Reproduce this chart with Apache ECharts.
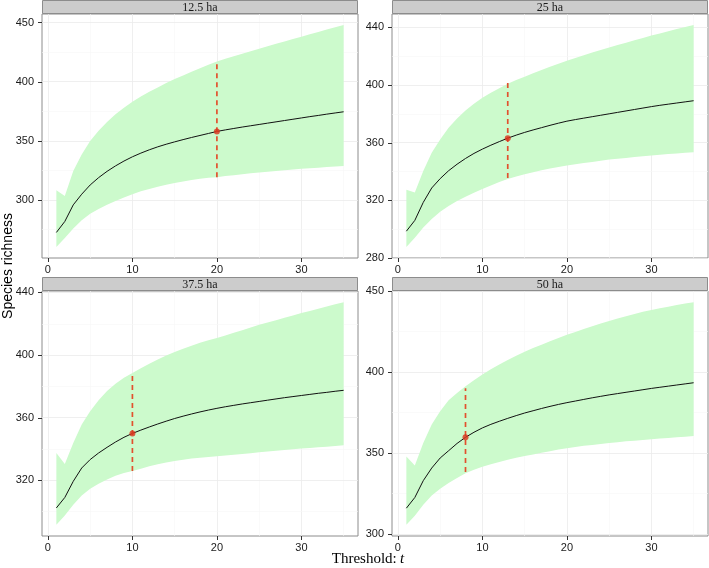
<!DOCTYPE html>
<html><head><meta charset="utf-8">
<script src="https://cdn.jsdelivr.net/npm/echarts@6/dist/echarts.min.js"></script>
<style>html,body{margin:0;padding:0;background:#fff}#c{width:709px;height:568px}</style>
</head><body><div id="c"></div>
<script>
const thresholds = [1,2,3,4,5,6,7,8,9,10,11,12,13,14,15,16,17,18,19,20,21,22,23,24,25,26,27,28,29,30,31,32,33,34,35];
const panelNames = ['12.5 ha','25 ha','37.5 ha','50 ha'];

const mean12 = [272.7,282,296,305,312.8,319,324.3,328.9,333,336.6,339.7,342.5,345,347.2,349.2,351.1,352.9,354.6,356.3,358,359.3,360.5,361.7,362.8,363.9,365,366.1,367.2,368.3,369.4,370.5,371.5,372.6,373.6,374.6];
const lower12 = [260.5,268,276,283,288.5,292.5,296,299.2,302.2,305,307.5,309.5,311.3,313,314.5,315.8,317,318,318.8,319.4,320.3,321.1,321.9,322.7,323.4,324,324.6,325.2,325.8,326.4,326.9,327.4,327.9,328.4,328.8];
const upper12 = [308.3,303.5,324.5,338.5,350,358.5,366,372.5,378,383,387.5,391.5,395.2,398.8,402.2,405.3,408.4,411.4,414.3,417.1,419.3,421.5,423.6,425.7,427.8,429.9,432,434,436,438,440,442,444,445.9,447.8];

const mean25 = [298.5,306,318.5,328.5,335,340.5,345,349,352.5,355.5,358.2,360.7,363.1,365.2,367.1,368.8,370.4,372,373.5,374.9,376,377,378,379,380,381,382,383,384,385,385.9,386.7,387.5,388.3,389.1];
const lower25 = [287.6,294,301,307,312,316,319.5,322.5,325.2,327.8,330.3,332.6,334.8,336.5,338,339.5,340.8,342,343.1,344.2,345,345.8,346.6,347.4,348.2,348.8,349.4,350,350.6,351.1,351.6,352.1,352.5,353,353.4];
const upper25 = [327.2,325.3,340.3,353,362.2,370.3,376.8,382.3,387,391.1,394.6,397.8,400.8,403.4,405.8,408.1,410.4,412.6,414.8,416.9,418.8,420.7,422.5,424.3,426,427.7,429.4,431,432.7,434.3,435.8,437.3,438.8,440.2,441.6];

const mean37 = [302.4,309.1,319.4,327.9,333.3,337.5,341.1,344.5,347.5,350,352.1,354.1,356,357.8,359.5,361,362.4,363.7,364.9,366,367,367.9,368.8,369.6,370.4,371.2,372,372.8,373.5,374.2,374.9,375.6,376.2,376.9,377.5];
const lower37 = [291.6,297.6,304.4,310.4,314.7,317.9,320.6,323,324.7,326,327.5,329,330.3,331.4,332.4,333.2,333.9,334.5,335,335.4,335.9,336.4,336.9,337.4,337.9,338.4,338.9,339.4,339.8,340.3,340.7,341.1,341.5,342,342.4];
const upper37 = [337.5,330.4,343.9,355.7,364.2,371.1,377,381.7,385.5,388.5,391.6,394.5,397.2,399.7,402,404.1,406,407.8,409.4,410.9,412.5,414.2,415.9,417.6,419.3,420.8,422.3,423.8,425.3,426.8,428.2,429.6,431,432.4,433.8];

const mean50 = [315.9,322.5,332.9,340.7,346.9,351.4,355.9,359.7,362.8,365.5,367.7,369.6,371.4,373.1,374.7,376.1,377.5,378.8,380,381.1,382.1,383.1,384.1,385,385.9,386.7,387.5,388.3,389.1,389.9,390.6,391.3,392,392.7,393.4];
const lower50 = [305.6,311.3,318,323.7,327.9,331.4,334.5,337.5,339.6,341.5,343.1,344.5,345.8,347,348.1,349.1,350.1,351.1,352.1,353,353.7,354.4,355,355.6,356.2,356.7,357.2,357.6,358,358.5,358.9,359.3,359.7,360.1,360.5];
const upper50 = [347.9,342.3,356.2,367.6,375.8,382.6,387,391.2,395,398.5,401.7,404.7,407.5,410.1,412.5,414.8,416.9,419,421,423,424.8,426.6,428.3,430,431.6,433.1,434.5,435.9,437.2,438.4,439.4,440.4,441.4,442.3,443.2];

const optimumT = [20,13,10,8];
const optimumValue = [358,363.1,350,359.7];
const optimumLower = [319.4,335.5,326,338.3];
const optimumUpper = [417.1,402,388.5,390];

const yTickValues = [[300,350,400,450],[280,320,360,400,440],[320,360,400,440],[300,350,400,450]];
const yMinorValues = [[275,325,375,425],[300,340,380,420],[300,340,380,420],[325,375,425]];
const xTickValues = [0,10,20,30];
const xMinorValues = [5,15,25,35];

const means = [mean12,mean25,mean37,mean50];
const lowers = [lower12,lower25,lower37,lower50];
const uppers = [upper12,upper25,upper37,upper50];

const grids = [
  {left:42, top:14, width:316, height:244},
  {left:392, top:14, width:316, height:244},
  {left:42, top:291, width:316, height:245},
  {left:392, top:291, width:316, height:245}
];

const chart = echarts.init(document.getElementById('c'), null, {renderer:'canvas'});

const xAxes = [], yAxes = [], series = [], graphics = [];
const xMin = thresholds[0], xMax = thresholds[thresholds.length-1];
const xPad = (xMax - xMin) * 0.05;
const labelFont = {color:'#1a1a1a', fontSize:11, fontFamily:'"Liberation Sans", Arial, sans-serif'};

function bandRenderer(i) {
  return function (params, api) {
    const pts = [];
    for (let k = 0; k < thresholds.length; k++) pts.push(api.coord([thresholds[k], uppers[i][k]]));
    for (let k = thresholds.length - 1; k >= 0; k--) pts.push(api.coord([thresholds[k], lowers[i][k]]));
    return {type:'polygon', shape:{points:pts}, style:{fill:'#ccfacc', stroke:null}};
  };
}

for (let i = 0; i < 4; i++) {
  const lo = Math.min(...lowers[i]), hi = Math.max(...uppers[i]);
  const pad = (hi - lo) * 0.05;
  xAxes.push({
    type:'value', gridIndex:i, min:xMin - xPad, max:xMax + xPad,
    axisLine:{show:false}, splitLine:{show:false},
    axisTick:{show:true, length:4, lineStyle:{color:'#333', width:1}, customValues:xTickValues},
    axisLabel:Object.assign({customValues:xTickValues, margin:6}, labelFont)
  });
  yAxes.push({
    type:'value', gridIndex:i, min:lo - pad, max:hi + pad,
    axisLine:{show:false}, splitLine:{show:false},
    axisTick:{show:false},
    axisLabel:Object.assign({customValues:yTickValues[i], margin:8}, labelFont)
  });
  const gridLines = [];
  xTickValues.forEach(v => gridLines.push({xAxis:v, lineStyle:{color:'#ebebeb', width:0.8, type:'solid'}}));
  xMinorValues.forEach(v => gridLines.push({xAxis:v, lineStyle:{color:'#f7f7f7', width:0.6, type:'solid'}}));
  yTickValues[i].forEach(v => gridLines.push({yAxis:v, lineStyle:{color:'#ebebeb', width:0.8, type:'solid'}}));
  yMinorValues[i].forEach(v => gridLines.push({yAxis:v, lineStyle:{color:'#f7f7f7', width:0.6, type:'solid'}}));
  series.push({
    type:'line', xAxisIndex:i, yAxisIndex:i, z:0, data:[[thresholds[0], means[i][0]]],
    symbol:'none', lineStyle:{opacity:0}, silent:true,
    markLine:{silent:true, z:0, symbol:'none', label:{show:false}, animation:false, data:gridLines}
  });
  series.push({
    type:'custom', xAxisIndex:i, yAxisIndex:i, z:1, silent:true,
    renderItem: bandRenderer(i),
    data:[[thresholds[0], lowers[i][0]]]
  });
  series.push({
    type:'line', xAxisIndex:i, yAxisIndex:i, z:3, symbol:'none',
    lineStyle:{color:'#111', width:1},
    data: thresholds.map((t,k) => [t, means[i][k]])
  });
  series.push({
    type:'line', xAxisIndex:i, yAxisIndex:i, z:4, symbol:'none',
    lineStyle:{color:'#e2502e', width:1.7, type:[5,4]},
    data: [[optimumT[i], optimumLower[i]], [optimumT[i], optimumUpper[i]]]
  });
  series.push({
    type:'scatter', xAxisIndex:i, yAxisIndex:i, z:5, symbolSize:6,
    itemStyle:{color:'#d9321c'},
    data: [[optimumT[i], optimumValue[i]]]
  });
  const g = grids[i];
  const stripTop = g.top - 13.5;
  graphics.push({
    type:'rect', shape:{x:g.left + 0.5, y:stripTop, width:g.width - 1, height:13},
    style:{fill:'#cccccc', stroke:'#8c8c8c', lineWidth:1}, z:10
  });
  graphics.push({
    type:'text', x:g.left + g.width/2, y:stripTop + 7,
    style:{text:panelNames[i], fill:'#1a1a1a', font:'12px "Liberation Serif", "DejaVu Serif", serif', textAlign:'center', textVerticalAlign:'middle'}, z:11
  });
}

graphics.push({
  type:'text', x:8, y:266, rotation:Math.PI/2,
  style:{text:'Species richness', fill:'#000', font:'14px "Liberation Sans", Arial, sans-serif', textAlign:'center', textVerticalAlign:'middle'}
});
graphics.push({
  type:'text', x:368, y:559,
  style:{
    text:'{a|Threshold:} {b|t}',
    textAlign:'center', textVerticalAlign:'middle',
    rich:{
      a:{fontFamily:'"Liberation Serif", "DejaVu Serif", serif', fontSize:15, color:'#000'},
      b:{fontFamily:'"Liberation Serif", "DejaVu Serif", serif', fontSize:15, fontStyle:'italic', color:'#000'}
    }
  }
});

const option = {
  animation:false,
  backgroundColor:'#ffffff',
  grid: grids.map(g => Object.assign({show:true, borderColor:'#8c8c8c', borderWidth:1, backgroundColor:'#fff', containLabel:false}, g)),
  xAxis:xAxes, yAxis:yAxes, series:series, graphic:graphics
};
chart.setOption(option);

// y-axis tick marks placed through the library's own scale
const tickGraphics = [];
for (let i = 0; i < 4; i++) {
  yTickValues[i].forEach(v => {
    const p = chart.convertToPixel({gridIndex:i}, [xMin, v]);
    const left = grids[i].left;
    tickGraphics.push({type:'line', shape:{x1:left - 4, y1:Math.round(p[1]) + 0.5, x2:left, y2:Math.round(p[1]) + 0.5}, style:{stroke:'#333', lineWidth:1}, z:10});
  });
}
chart.setOption({graphic: graphics.concat(tickGraphics)});
</script></body></html>
